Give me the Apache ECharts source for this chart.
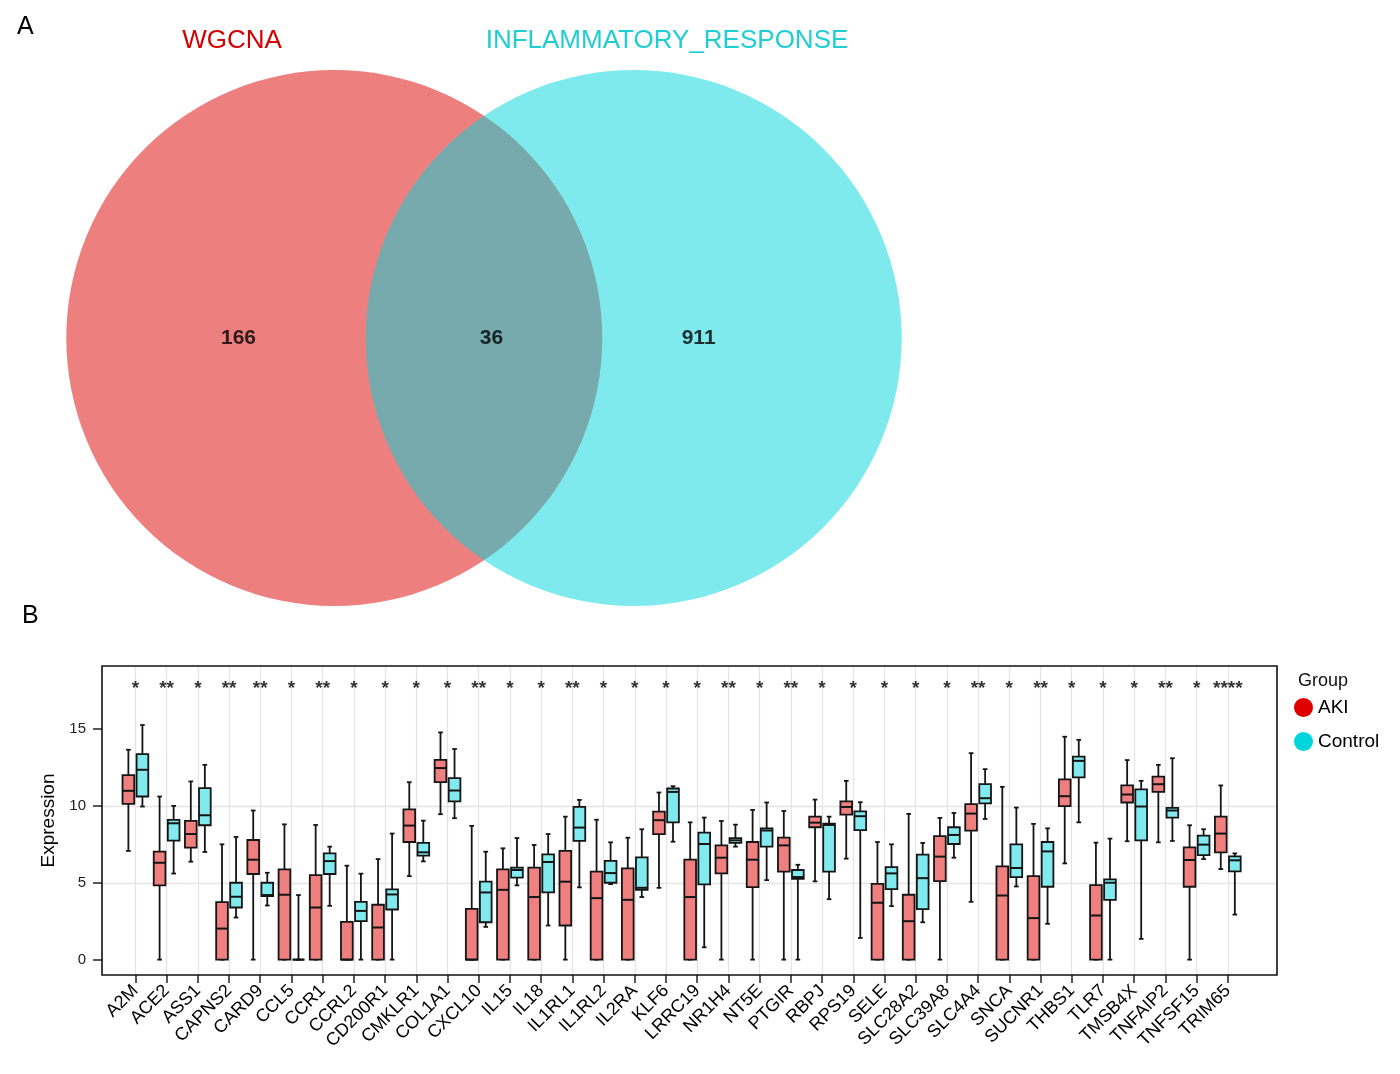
<!DOCTYPE html>
<html>
<head>
<meta charset="utf-8">
<script src="https://cdn.jsdelivr.net/npm/echarts@6/dist/echarts.min.js"></script>
<style>
  html, body { margin: 0; padding: 0; background: #fff; }
  #chart { width: 1400px; height: 1074px; }
</style>
</head>
<body>
<div id="chart"></div>
<script>
// ---- data ----
const vennSets = ['WGCNA', 'INFLAMMATORY_RESPONSE'];
// only WGCNA, both, only INFLAMMATORY_RESPONSE
const vennCounts = [166, 36, 911];

const genes = ['A2M', 'ACE2', 'ASS1', 'CAPNS2', 'CARD9', 'CCL5', 'CCR1', 'CCRL2', 'CD200R1',
  'CMKLR1', 'COL1A1', 'CXCL10', 'IL15', 'IL18', 'IL1RL1', 'IL1RL2', 'IL2RA', 'KLF6', 'LRRC19',
  'NR1H4', 'NT5E', 'PTGIR', 'RBPJ', 'RPS19', 'SELE', 'SLC28A2', 'SLC39A8', 'SLC4A4', 'SNCA',
  'SUCNR1', 'THBS1', 'TLR7', 'TMSB4X', 'TNFAIP2', 'TNFSF15', 'TRIM65'];

const groups = ['AKI', 'Control'];

// [min, q1, median, q3, max] per gene
const akiStats = [
  [7.07, 10.13, 10.98, 12.0, 13.65], [0, 4.83, 6.3, 7.02, 10.61], [6.37, 7.28, 8.17, 9.02, 11.59],
  [0, 0, 2.02, 3.74, 7.5], [0, 5.57, 6.5, 7.78, 9.7], [0, 0, 4.22, 5.87, 8.8],
  [0, 0, 3.39, 5.5, 8.76], [0, 0, 0, 2.46, 6.11], [0, 0, 2.09, 3.57, 6.54],
  [5.43, 7.65, 8.72, 9.78, 11.54], [9.46, 11.54, 12.46, 13.0, 14.78], [0, 0, 0, 3.3, 8.7],
  [0, 0, 4.54, 5.87, 7.24], [0, 0, 4.07, 5.98, 7.46], [0, 2.22, 5.07, 7.07, 9.3],
  [0, 0, 4.0, 5.72, 9.1], [0, 0, 3.89, 5.93, 7.93], [4.67, 8.17, 9.07, 9.63, 10.87],
  [0, 0, 4.07, 6.5, 8.93], [0, 5.61, 6.63, 7.43, 9.02], [0, 4.72, 6.5, 7.65, 9.74],
  [0, 5.72, 7.43, 7.93, 9.67], [5.09, 8.61, 8.91, 9.3, 10.41], [6.57, 9.43, 9.93, 10.3, 11.63],
  [0, 0, 3.7, 4.93, 7.65], [0, 0, 2.5, 4.22, 9.48], [0, 5.11, 6.7, 8.04, 9.22],
  [3.76, 8.39, 9.5, 10.11, 13.43], [0, 0, 4.17, 6.07, 11.24], [0, 0, 2.7, 5.43, 8.83],
  [6.26, 9.98, 10.63, 11.72, 14.5], [0, 0, 2.87, 4.85, 7.61], [7.7, 10.22, 10.74, 11.33, 12.98],
  [7.63, 10.91, 11.41, 11.91, 12.67], [0, 4.74, 6.48, 7.3, 8.74], [5.89, 6.98, 8.2, 9.3, 11.33]
];

const controlStats = [
  [9.96, 10.61, 12.35, 13.37, 15.26], [5.6, 7.74, 8.87, 9.09, 10.0], [7.0, 8.74, 9.39, 11.15, 12.67],
  [2.74, 3.39, 4.09, 5.0, 7.98], [3.52, 4.13, 4.2, 5.0, 5.65], [0, 0, 0, 0, 4.2],
  [3.5, 5.57, 6.41, 6.91, 7.35], [0, 2.5, 3.17, 3.76, 5.59], [0, 3.26, 4.24, 4.57, 8.2],
  [6.39, 6.76, 6.98, 7.6, 9.04], [9.2, 10.3, 11.0, 11.8, 13.7], [2.13, 2.43, 4.37, 5.07, 7.02],
  [4.83, 5.33, 5.83, 5.98, 7.91], [2.22, 4.37, 6.35, 6.85, 8.17], [4.7, 7.72, 8.59, 9.93, 10.39],
  [4.91, 5.0, 5.63, 6.43, 7.63], [4.07, 4.54, 4.67, 6.65, 8.48], [7.67, 8.93, 10.91, 11.13, 11.28],
  [0.8, 4.89, 7.52, 8.26, 9.24], [7.35, 7.59, 7.76, 7.91, 8.78], [5.17, 7.35, 8.4, 8.54, 10.22],
  [0, 5.26, 5.37, 5.83, 6.17], [3.93, 5.72, 8.76, 8.85, 9.3], [1.41, 8.43, 9.33, 9.65, 10.24],
  [3.48, 4.59, 5.61, 6.02, 7.5], [2.43, 3.28, 5.3, 6.83, 7.59], [6.63, 7.52, 8.11, 8.61, 9.54],
  [9.15, 10.17, 10.5, 11.41, 12.39], [4.76, 5.37, 5.96, 7.5, 9.89], [2.33, 4.74, 7.04, 7.65, 8.54],
  [8.93, 11.85, 12.93, 13.2, 14.3], [0, 3.89, 5.0, 5.22, 7.87], [1.35, 7.76, 9.96, 11.07, 11.63],
  [7.72, 9.24, 9.7, 9.87, 13.1], [6.54, 6.8, 7.48, 8.07, 8.48], [2.93, 5.74, 6.46, 6.72, 6.91]
];

const sigLabels = ['*', '**', '*', '**', '**', '*', '**', '*', '*', '*', '*', '**', '*', '*', '**',
  '*', '*', '*', '*', '**', '*', '**', '*', '*', '*', '*', '*', '**', '*', '**', '*', '*', '*',
  '**', '*', '****'];

const yTicks = [0, 5, 10, 15];

// ---- styles / layout ----
const FONT = '"Liberation Sans", Arial, Helvetica, sans-serif';
const groupColors = ['#DE0000', '#00D5DC'];
const boxFills = ['#F08080', '#80EAEE'];
const vennFill = ['rgba(222,0,0,0.5)', 'rgba(0,214,220,0.5)'];
const vennCentreGap = 1.116;          // centre distance in radius units
const vennLabelX = [-0.915, 0.028, 0.80];
const starY = 17.6;
const dodge = 0.225;                  // fraction of category step
const boxW = 0.375;
const INK = '#141414';

const chart = echarts.init(document.getElementById('chart'));

function boxRenderer(side, fill) {
  return function (params, api) {
    const i = api.value(0);
    const step = api.size([1, 0])[0];
    const cx = api.coord([i, 0])[0] + side * step * dodge;
    const half = step * boxW / 2;
    const cap = step * 0.075;
    const y = [1, 2, 3, 4, 5].map(k => api.coord([i, api.value(k)])[1]);
    const line = { stroke: INK, lineWidth: 1.8 };
    return {
      type: 'group',
      children: [
        { type: 'line', shape: { x1: cx, y1: y[4], x2: cx, y2: y[3] }, style: line },
        { type: 'line', shape: { x1: cx, y1: y[1], x2: cx, y2: y[0] }, style: line },
        { type: 'line', shape: { x1: cx - cap, y1: y[4], x2: cx + cap, y2: y[4] }, style: line },
        { type: 'line', shape: { x1: cx - cap, y1: y[0], x2: cx + cap, y2: y[0] }, style: line },
        {
          type: 'rect',
          shape: { x: cx - half, y: y[3], width: half * 2, height: y[1] - y[3] },
          style: { fill: fill, stroke: INK, lineWidth: 1.8 }
        },
        { type: 'line', shape: { x1: cx - half, y1: y[2], x2: cx + half, y2: y[2] },
          style: { stroke: INK, lineWidth: 2 } }
      ]
    };
  };
}

const option = {
  backgroundColor: '#fff',
  animation: false,
  textStyle: { fontFamily: FONT },
  title: [
    { text: 'A', left: 12, top: 10, textStyle: { fontFamily: FONT, fontSize: 25, fontWeight: 'normal', color: '#000' } },
    { text: 'B', left: 17, top: 599, textStyle: { fontFamily: FONT, fontSize: 25, fontWeight: 'normal', color: '#000' } },
    { text: vennSets[0], left: 227, top: 23, textAlign: 'center',
      textStyle: { fontFamily: FONT, fontSize: 26, fontWeight: 'normal', color: '#D20000' } },
    { text: vennSets[1], left: 662, top: 23, textAlign: 'center',
      textStyle: { fontFamily: FONT, fontSize: 26, fontWeight: 'normal', color: '#1FCDD4' } },
    { text: 'Group', left: 1293, top: 667, textStyle: { fontFamily: FONT, fontSize: 18, fontWeight: 'normal', color: '#111' } }
  ],
  legend: {
    data: groups,
    orient: 'vertical',
    left: 1294,
    top: 698,
    padding: 0,
    itemGap: 15,
    itemWidth: 19,
    itemHeight: 19,
    icon: 'circle',
    textStyle: { fontFamily: FONT, fontSize: 19, color: '#000' }
  },
  grid: [
    { left: 66, top: 70, width: 836, height: 536 },
    { left: 102, top: 666, right: 123, bottom: 99, show: true, z: 4,
      borderColor: '#111', borderWidth: 1.6, backgroundColor: 'transparent' },
    { left: 135.4, top: 666, width: 1092.4, bottom: 99 }
  ],
  xAxis: [
    { gridIndex: 0, type: 'value', min: -(1 + vennCentreGap / 2), max: 1 + vennCentreGap / 2, show: false },
    { gridIndex: 1, type: 'value', min: 0, max: 1, show: false },
    {
      gridIndex: 2, type: 'category', data: genes, boundaryGap: false, position: 'bottom',
      axisLine: { show: false, onZero: false },
      axisTick: { show: true, length: 8, interval: 0, lineStyle: { color: '#222', width: 1.5 } },
      axisLabel: { interval: 0, rotate: 45, margin: 13, fontSize: 18, color: '#000', fontFamily: FONT },
      splitLine: { show: true, interval: 0, lineStyle: { color: '#e4e4e4', width: 1.3 } }
    }
  ],
  yAxis: [
    { gridIndex: 0, type: 'value', min: -1, max: 1, show: false },
    {
      gridIndex: 1, type: 'value', min: -1, max: 19.1,
      name: 'Expression', nameLocation: 'middle', nameGap: 37,
      nameTextStyle: { fontFamily: FONT, fontSize: 19, color: '#000' },
      axisLine: { show: false },
      axisTick: { show: true, length: 9, customValues: yTicks, lineStyle: { color: '#222', width: 1.5 } },
      axisLabel: { customValues: yTicks, margin: 16, fontSize: 15, color: '#222', fontFamily: FONT },
      splitLine: { show: true, showMinLine: false, showMaxLine: false, lineStyle: { color: '#e4e4e4', width: 1.3 } }
    },
    { gridIndex: 2, type: 'value', min: -1, max: 19.1, show: false }
  ],
  series: [
    {
      type: 'scatter', xAxisIndex: 0, yAxisIndex: 0, silent: true,
      symbolSize: 536,
      data: [
        { value: [-vennCentreGap / 2, 0], itemStyle: { color: vennFill[0], opacity: 1 } },
        { value: [vennCentreGap / 2, 0], itemStyle: { color: vennFill[1], opacity: 1 } }
      ],
      z: 1
    },
    {
      type: 'scatter', xAxisIndex: 0, yAxisIndex: 0, silent: true, symbolSize: 0,
      data: vennCounts.map((c, k) => [vennLabelX[k], 0, c]),
      label: {
        show: true, position: 'inside', formatter: p => p.value[2],
        fontFamily: FONT, fontSize: 21, fontWeight: 'bold', color: '#000'
      },
      z: 3
    },
    {
      name: groups[0], type: 'custom', xAxisIndex: 2, yAxisIndex: 2,
      itemStyle: { color: groupColors[0] },
      renderItem: boxRenderer(-1, boxFills[0]),
      encode: { x: 0, y: [1, 2, 3, 4, 5] },
      data: akiStats.map((s, i) => [i].concat(s)),
      clip: false, z: 3
    },
    {
      name: groups[1], type: 'custom', xAxisIndex: 2, yAxisIndex: 2,
      itemStyle: { color: groupColors[1] },
      renderItem: boxRenderer(1, boxFills[1]),
      encode: { x: 0, y: [1, 2, 3, 4, 5] },
      data: controlStats.map((s, i) => [i].concat(s)),
      clip: false, z: 3
    },
    {
      type: 'scatter', xAxisIndex: 2, yAxisIndex: 2, silent: true, symbolSize: 0,
      data: sigLabels.map((s, i) => [i, starY, s]),
      label: {
        show: true, position: 'inside', formatter: p => p.value[2],
        fontFamily: FONT, fontSize: 19, fontWeight: 'bold', color: '#000'
      },
      z: 3
    }
  ]
};

chart.setOption(option);
</script>
</body>
</html>
